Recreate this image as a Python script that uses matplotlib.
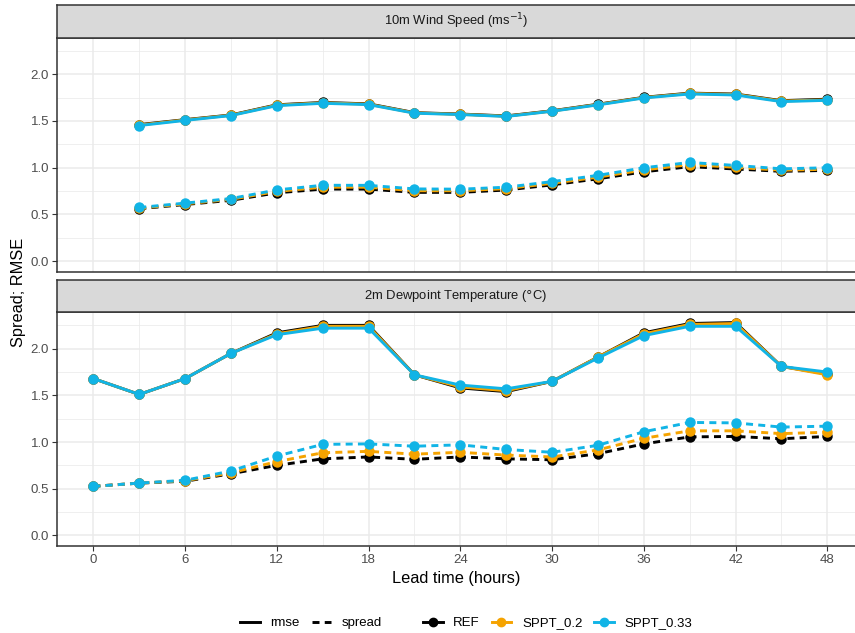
import numpy as np
import matplotlib.pyplot as plt
from matplotlib.lines import Line2D

plt.rcParams['font.family'] = ['Liberation Sans', 'DejaVu Sans']

# Data
lead = [0, 3, 6, 9, 12, 15, 18, 21, 24, 27, 30, 33, 36, 39, 42, 45, 48]
lead_wind = lead[1:]

wind_rmse_ref = [1.46, 1.513, 1.563, 1.672, 1.697, 1.682, 1.588, 1.573, 1.553, 1.608, 1.678, 1.752, 1.797, 1.787, 1.716, 1.732]
wind_rmse_s02 = [1.455, 1.51, 1.56, 1.668, 1.693, 1.678, 1.585, 1.57, 1.55, 1.605, 1.675, 1.749, 1.793, 1.783, 1.712, 1.725]
wind_rmse_s033 = [1.45, 1.505, 1.557, 1.663, 1.688, 1.674, 1.582, 1.568, 1.547, 1.603, 1.671, 1.745, 1.788, 1.777, 1.706, 1.72]

wind_spread_ref = [0.56, 0.605, 0.65, 0.73, 0.77, 0.77, 0.735, 0.735, 0.76, 0.815, 0.88, 0.955, 1.01, 0.985, 0.96, 0.97]
wind_spread_s02 = [0.565, 0.612, 0.66, 0.745, 0.79, 0.79, 0.752, 0.752, 0.775, 0.832, 0.898, 0.975, 1.032, 1.003, 0.972, 0.982]
wind_spread_s033 = [0.573, 0.62, 0.669, 0.761, 0.811, 0.81, 0.772, 0.769, 0.79, 0.85, 0.917, 0.998, 1.055, 1.023, 0.987, 0.998]

dew_rmse_ref = [1.68, 1.51, 1.68, 1.95, 2.17, 2.25, 2.25, 1.72, 1.58, 1.54, 1.65, 1.91, 2.17, 2.27, 2.28, 1.81, 1.73]
dew_rmse_s02 = [1.68, 1.51, 1.68, 1.95, 2.16, 2.24, 2.24, 1.72, 1.59, 1.55, 1.65, 1.91, 2.16, 2.26, 2.27, 1.81, 1.72]
dew_rmse_s033 = [1.68, 1.51, 1.68, 1.95, 2.15, 2.22, 2.22, 1.72, 1.61, 1.57, 1.65, 1.90, 2.14, 2.24, 2.24, 1.81, 1.75]

dew_spread_ref = [0.525, 0.56, 0.58, 0.66, 0.75, 0.82, 0.84, 0.815, 0.84, 0.82, 0.81, 0.875, 0.98, 1.055, 1.06, 1.035, 1.06]
dew_spread_s02 = [0.525, 0.56, 0.585, 0.67, 0.79, 0.885, 0.90, 0.87, 0.89, 0.86, 0.84, 0.915, 1.04, 1.12, 1.12, 1.09, 1.105]
dew_spread_s033 = [0.525, 0.56, 0.59, 0.69, 0.85, 0.975, 0.98, 0.955, 0.97, 0.92, 0.89, 0.965, 1.11, 1.21, 1.205, 1.16, 1.17]

exps = ['REF', 'SPPT_0.2', 'SPPT_0.33']
colors = {'REF': '#000000', 'SPPT_0.2': '#F5A300', 'SPPT_0.33': '#11B4E6'}

panels = [
    ('10m Wind Speed (ms$^{-1}$)', lead_wind,
     [wind_rmse_ref, wind_rmse_s02, wind_rmse_s033],
     [wind_spread_ref, wind_spread_s02, wind_spread_s033]),
    ('2m Dewpoint Temperature ($\\degree$C)', lead,
     [dew_rmse_ref, dew_rmse_s02, dew_rmse_s033],
     [dew_spread_ref, dew_spread_s02, dew_spread_s033]),
]

W, H = 855, 633
fig = plt.figure(figsize=(W / 100, H / 100), dpi=100)

left, right = 56.7, 864
boxes = [(37.7, 271.7, 5.0), (312.3, 546.0, 280.3)]  # panel top, panel bottom, strip top

dash = (0, (2.4, 1.8))
lw = 2.1
ms = 6.5
edge = '#333333'
fs_tick = 9.5

for i, ((title, x, rmse, spread), (ptop, pbot, stop)) in enumerate(zip(panels, boxes)):
    ax = fig.add_axes([left / W, (H - pbot) / H, (right - left) / W, (pbot - ptop) / H])
    sax = fig.add_axes([left / W, (H - ptop) / H, (right - left) / W, (ptop - stop) / H])
    sax.set_facecolor('#D9D9D9')
    sax.set_xticks([])
    sax.set_yticks([])
    for s in sax.spines.values():
        s.set_color(edge)
        s.set_linewidth(1.1)
    sax.text(0.5 * (W - left) / (right - left), 0.5, title, transform=sax.transAxes,
             ha='center', va='center', fontsize=9.4, color='#1A1A1A')

    for name, r, s in zip(exps, rmse, spread):
        c = colors[name]
        ax.plot(x, r, color=c, lw=lw, ls='-', marker='o', ms=ms, zorder=3)
        ax.plot(x, s, color=c, lw=lw, ls=dash, marker='o', ms=ms, zorder=3)

    ax.set_xlim(-2.4, 50.4)
    ax.set_ylim(-0.114, 2.39)
    ax.set_xticks(range(0, 49, 6))
    ax.set_xticks(range(3, 49, 6), minor=True)
    ax.set_yticks([0, 0.5, 1.0, 1.5, 2.0])
    ax.set_yticks([0.25, 0.75, 1.25, 1.75, 2.25], minor=True)
    ax.set_yticklabels(['0.0', '0.5', '1.0', '1.5', '2.0'])
    ax.grid(True, which='major', color='#EBEBEB', lw=1.1, zorder=0)
    ax.grid(True, which='minor', color='#EBEBEB', lw=0.55, zorder=0)
    ax.set_axisbelow(True)
    for s in ax.spines.values():
        s.set_color(edge)
        s.set_linewidth(1.1)
    ax.tick_params(which='major', length=3.5, width=0.8, color=edge,
                   labelsize=fs_tick, labelcolor='#4D4D4D', pad=2)
    ax.tick_params(which='minor', length=0)
    if i == 0:
        ax.tick_params(bottom=False, labelbottom=False)
    else:
        ax.set_xlabel('Lead time (hours)', fontsize=11.8, color='black')
        ax.xaxis.set_label_coords(0.5 * (W - left) / (right - left), -0.105)

fig.text(18 / W, 1 - 292 / H, 'Spread; RMSE', rotation=90, ha='center', va='center', fontsize=11.8)

h1 = [Line2D([], [], color='black', lw=lw, ls='-'),
      Line2D([], [], color='black', lw=lw, ls=dash)]
fig.legend(h1, ['rmse', 'spread'], loc='center', bbox_to_anchor=(311 / W, 1 - 623 / H),
           ncol=2, frameon=False, fontsize=fs_tick, handlelength=1.5, handletextpad=0.8,
           columnspacing=0.9)
h2 = [Line2D([], [], color=colors[e], lw=lw, marker='o', ms=ms - 0.5) for e in exps]
fig.legend(h2, exps, loc='center', bbox_to_anchor=(557.5 / W, 1 - 623 / H),
           ncol=3, frameon=False, fontsize=fs_tick, handlelength=1.5, handletextpad=0.8,
           columnspacing=0.9)

fig.savefig('out.png', dpi=100)
